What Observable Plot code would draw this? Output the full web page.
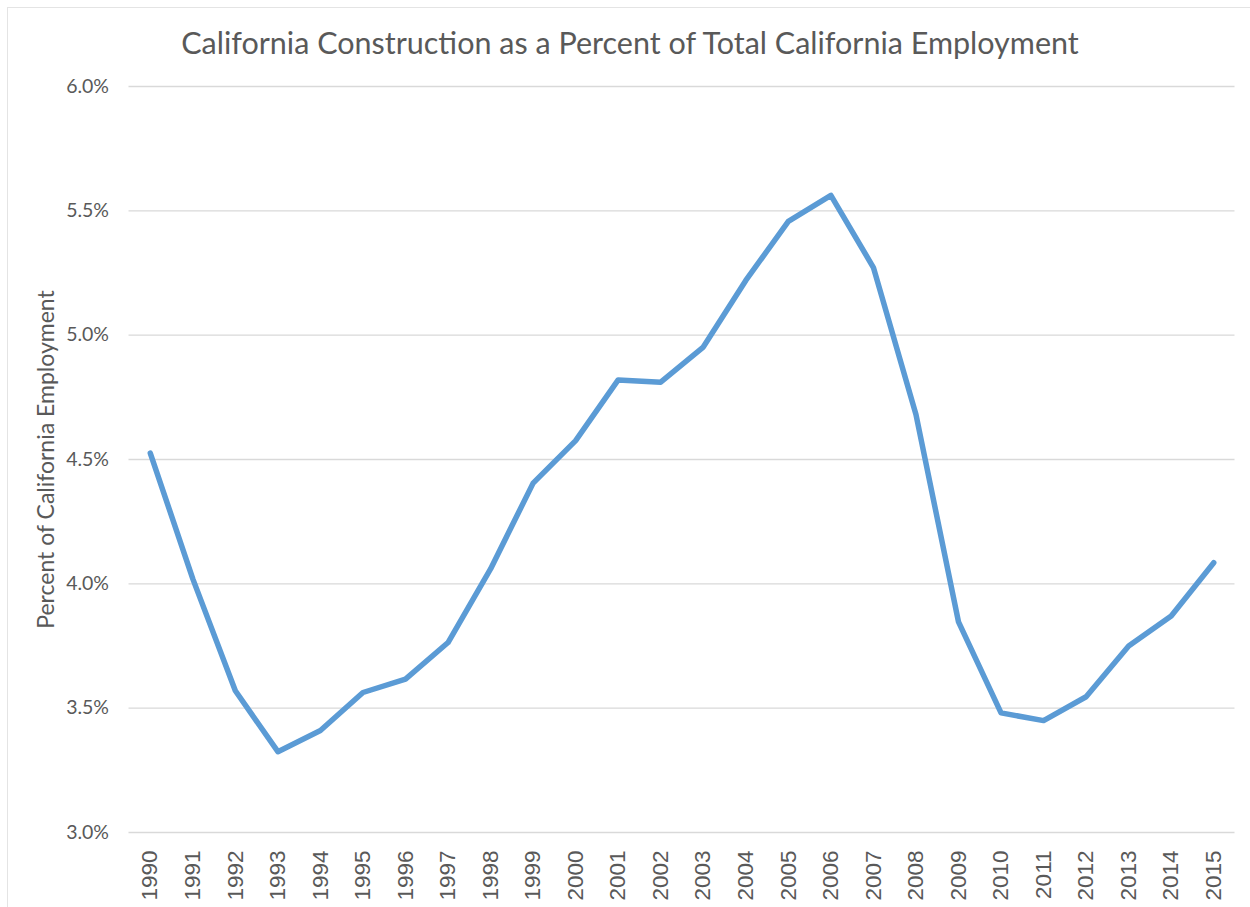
<!DOCTYPE html>
<html>
<head>
<meta charset="utf-8">
<script src="https://cdn.jsdelivr.net/npm/d3@7"></script>
<script src="https://cdn.jsdelivr.net/npm/@observablehq/plot@0.6"></script>
<style>
  html, body { margin: 0; padding: 0; background: #fff; }
  #wrap { position: relative; width: 1250px; height: 907px; overflow: hidden; }
  #border { position: absolute; left: 7px; top: 7px; width: 1300px; height: 1000px;
            border-left: 1px solid #e4e4e4; border-top: 1px solid #e4e4e4; box-sizing: border-box; }
  #title { position: absolute; left: 0; top: 22px; width: 1260px; text-align: center;
           font-family: Lato, "Open Sans", sans-serif; font-size: 30.5px; color: #595959; line-height: 40px; }
  #chart { position: absolute; left: 0; top: 70px; }
</style>
</head>
<body>
<div id="wrap">
  <div id="border"></div>
  <div id="title">California Construction as a Percent of Total California Employment</div>
  <div id="chart"></div>
</div>
<script>
const years = ["1990","1991","1992","1993","1994","1995","1996","1997","1998","1999","2000","2001","2002","2003","2004","2005","2006","2007","2008","2009","2010","2011","2012","2013","2014","2015"];
const shares = [4.526, 4.02, 3.57, 3.325, 3.41, 3.563, 3.617, 3.764, 4.06, 4.405, 4.576, 4.82, 4.811, 4.952, 5.22, 5.458, 5.562, 5.272, 4.681, 3.847, 3.481, 3.45, 3.546, 3.75, 3.871, 4.085];
const yTicks = [3.0, 3.5, 4.0, 4.5, 5.0, 5.5, 6.0];
const yLabel = "Percent of California Employment";

const data = years.map((y, i) => ({year: y, value: shares[i]}));

const chart = Plot.plot({
  width: 1250,
  height: 837,
  marginTop: 16,
  marginBottom: 75,
  marginLeft: 128.5,
  marginRight: 15.5,
  style: {background: "transparent", color: "#595959"},
  x: {type: "point", domain: years, padding: 0.5, round: false},
  y: {domain: [3.0, 6.0]},
  marks: [
    Plot.gridY(yTicks, {stroke: "#d9d9d9", strokeOpacity: 1, strokeWidth: 1.3}),
    Plot.axisY(yTicks, {tickSize: 0, tickPadding: 20, tickFormat: d => d.toFixed(1) + "%",
      fontSize: 19.5, fontFamily: "Lato, sans-serif", fill: "#595959", label: null}),
    Plot.axisX({tickSize: 0, tickRotate: -90, tickPadding: 18, fontSize: 22.5,
      fontFamily: "'Liberation Sans', Arial, sans-serif", fill: "#595959", label: null}),
    Plot.text([yLabel], {frameAnchor: "left", textAnchor: "middle", dx: -82, rotate: -90, text: d => d,
      fontSize: 23, fontFamily: "Lato, sans-serif", fill: "#595959"}),
    Plot.line(data, {x: "year", y: "value", stroke: "#5b9bd5", strokeWidth: 5.5,
      strokeLinejoin: "round", strokeLinecap: "round"})
  ]
});
document.getElementById("chart").appendChild(chart);
</script>
</body>
</html>
